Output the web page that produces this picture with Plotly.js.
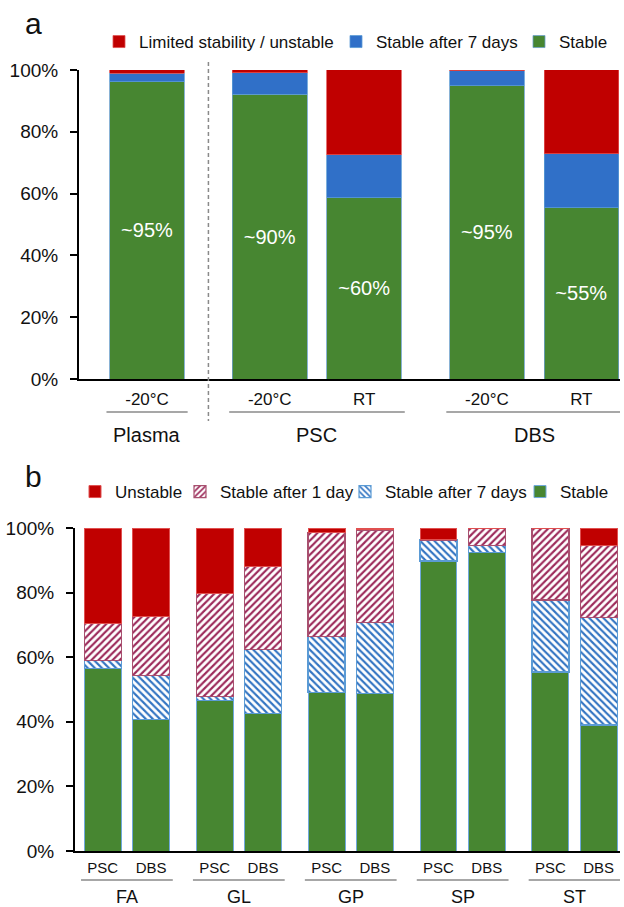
<!DOCTYPE html>
<html>
<head>
<meta charset="utf-8">
<script src="https://cdn.plot.ly/plotly-3.0.1.min.js"></script>
<style>html,body{margin:0;padding:0;background:#fff;}#chart{width:624px;height:907px;}</style>
</head>
<body>
<div id="chart"></div>
<script>
// ---------- Panel a data ----------
const groupsA = ['Plasma', 'PSC', 'PSC', 'DBS', 'DBS'];
const condA = ['-20°C', '-20°C', 'RT', '-20°C', 'RT'];
const stableA = [96.2, 92.2, 58.7, 94.9, 55.5];
const after7A = [2.7, 6.9, 13.9, 4.9, 17.4];
const limitedA = [1.9, 1.4, 27.9, 1.0, 27.9];
const labelA = ['~95%', '~90%', '~60%', '~95%', '~55%'];
const legendA = ['Limited stability / unstable', 'Stable after 7 days', 'Stable'];

// ---------- Panel b data ----------
const analytesB = ['FA', 'GL', 'GP', 'SP', 'ST'];
const matricesB = ['PSC', 'DBS'];
const stableB   = [56.6, 40.8, 46.5, 42.6, 49.0, 48.8, 89.8, 92.4, 55.4, 39.0];
const after7B   = [2.3, 13.5, 1.3, 19.9, 17.3, 21.9, 6.5, 2.3, 22.3, 33.2];
const after1B   = [11.6, 18.2, 32.0, 25.5, 32.4, 28.7, 0, 5.3, 22.3, 22.5];
const unstableB = [29.5, 27.5, 20.2, 12.0, 1.3, 0.6, 3.7, 0, 0, 5.3];
const legendB = ['Unstable', 'Stable after 1 day', 'Stable after 7 days', 'Stable'];
const yTicks = [0, 20, 40, 60, 80, 100];
const yTickText = ['0%', '20%', '40%', '60%', '80%', '100%'];

// ---------- helpers ----------
const W = 624, H = 907;
const px = v => v / W;
const py = v => 1 - v / H;
const FONT = 'Liberation Sans, Arial, sans-serif';
const RED = '#c00000', BLUE = '#3070c8', GREEN = '#478631';

// bar positions from group structure (gap between groups)
const GAP_A = 0.3;
const posA = [];
{ let g = 0; groupsA.forEach((grp, i) => { if (i > 0 && grp !== groupsA[i - 1]) g++; posA.push(i + g * GAP_A); }); }
const GAP_B = 0.317;
const posB = [], subB = [], grpB = [];
analytesB.forEach((a, gi) => matricesB.forEach((m, mi) => {
  posB.push(gi * (matricesB.length + GAP_B) + mi); subB.push(m); grpB.push(a);
}));

const common = { type: 'bar', hoverinfo: 'skip', cliponaxis: false, showlegend: true };

const traces = [
  Object.assign({}, common, { x: posA, y: stableA, name: legendA[2], width: 0.79, xaxis: 'x', yaxis: 'y',
    marker: { color: GREEN, line: { color: '#6b9fc9', width: 0.8 } },
    text: labelA, textposition: 'inside', insidetextanchor: 'middle', textangle: 0, constraintext: 'none',
    textfont: { color: '#ffffff', size: 20, family: FONT }, legend: 'legend3' }),
  Object.assign({}, common, { x: posA, y: after7A, name: legendA[1], width: 0.79, xaxis: 'x', yaxis: 'y',
    marker: { color: BLUE, line: { color: '#5b9bd5', width: 0.8 } }, legend: 'legend2' }),
  Object.assign({}, common, { x: posA, y: limitedA, name: legendA[0], width: 0.79, xaxis: 'x', yaxis: 'y',
    marker: { color: RED, line: { color: '#e05050', width: 0.8 } }, legend: 'legend' }),

  Object.assign({}, common, { x: posB, y: stableB, name: legendB[3], width: 0.766, xaxis: 'x2', yaxis: 'y2',
    marker: { color: GREEN, line: { color: '#6fa8dc', width: 1 } }, legend: 'legend7' }),
  Object.assign({}, common, { x: posB, y: after7B, name: legendB[2], width: 0.766, xaxis: 'x2', yaxis: 'y2',
    marker: { color: '#ffffff', line: { color: '#5b9bd5', width: 1.2 },
      pattern: { shape: '\\', fgcolor: '#3274c2', bgcolor: '#ffffff', size: 5, solidity: 0.42 } }, legend: 'legend6' }),
  Object.assign({}, common, { x: posB, y: after1B, name: legendB[1], width: 0.766, xaxis: 'x2', yaxis: 'y2',
    marker: { color: '#ffffff', line: { color: '#a8506f', width: 1.2 },
      pattern: { shape: '/', fgcolor: '#9c2a5a', bgcolor: '#ffffff', size: 5, solidity: 0.42 } }, legend: 'legend5' }),
  Object.assign({}, common, { x: posB, y: unstableB, name: legendB[0], width: 0.766, xaxis: 'x2', yaxis: 'y2',
    marker: { color: RED, line: { color: '#e05050', width: 1 } }, legend: 'legend4' })
];

function leg(xText, yCenter) {
  return { x: px(xText - 40), y: py(yCenter), xanchor: 'left', yanchor: 'middle', orientation: 'h',
    bgcolor: 'rgba(0,0,0,0)', borderwidth: 0, font: { size: 17, family: FONT, color: '#111' },
    itemclick: false, itemdoubleclick: false, visible: true };
}

const yAxisBase = {
  range: [0, 100], tickvals: yTicks, ticktext: yTickText, showline: true, linewidth: 2, linecolor: '#000',
  ticks: 'outside', ticklen: 7, tickwidth: 2, tickcolor: '#000', showgrid: false, zeroline: false,
  tickfont: { size: 19, family: FONT, color: '#111' }, ticklabelstandoff: 8, fixedrange: true
};
const yOverlay = {
  range: [0, 100], tickvals: yTicks, showline: false, showgrid: false, zeroline: false,
  ticks: 'inside', ticklen: 6, tickwidth: 2, tickcolor: '#000', showticklabels: false, fixedrange: true
};

const layout = {
  width: W, height: H, margin: { l: 0, r: 0, t: 0, b: 0 }, showlegend: true,
  paper_bgcolor: '#fff', plot_bgcolor: 'rgba(0,0,0,0)', barmode: 'stack', bargap: 0,
  font: { family: FONT, color: '#111' },
  xaxis: { domain: [px(79), px(620)], range: [-0.721, 5.01], anchor: 'y', showline: true, linewidth: 2, linecolor: '#000',
    ticks: '', tickvals: posA, ticktext: condA, tickfont: { size: 17, family: FONT, color: '#111' },
    ticklabelstandoff: 4, showgrid: false, zeroline: false, fixedrange: true },
  yaxis: Object.assign({}, yAxisBase, { domain: [py(379), py(70)], anchor: 'x' }),
  yaxis3: Object.assign({}, yOverlay, { overlaying: 'y', anchor: 'x' }),
  xaxis2: { domain: [px(75), px(620)], range: [-0.575, 10.709], anchor: 'y2', showline: true, linewidth: 2, linecolor: '#000',
    ticks: '', tickvals: posB, ticktext: subB, tickfont: { size: 15, family: FONT, color: '#111' },
    ticklabelstandoff: 2, showgrid: false, zeroline: false, fixedrange: true },
  yaxis2: Object.assign({}, yAxisBase, { domain: [py(851), py(528)], anchor: 'x2' }),
  yaxis4: Object.assign({}, yOverlay, { overlaying: 'y2', anchor: 'x2' }),
  legend: leg(139, 42), legend2: leg(376, 42), legend3: leg(559, 42),
  legend4: leg(115, 492), legend5: leg(220, 492), legend6: leg(385, 492), legend7: leg(560, 492),
  shapes: [], annotations: []
};

// panel letters
layout.annotations.push({ text: 'a', xref: 'paper', yref: 'paper', x: px(23), y: py(23), xanchor: 'left', yanchor: 'middle',
  showarrow: false, font: { size: 30, family: FONT, color: '#111' } });
layout.annotations.push({ text: 'b', xref: 'paper', yref: 'paper', x: px(23), y: py(476), xanchor: 'left', yanchor: 'middle',
  showarrow: false, font: { size: 30, family: FONT, color: '#111' } });

// dashed separator between Plasma and PSC
{
  const iFirstPSC = groupsA.indexOf('PSC');
  const xm = (posA[0] + posA[iFirstPSC]) / 2;
  layout.shapes.push({ type: 'line', xref: 'x', yref: 'paper', x0: xm, x1: xm,
    y0: py(62), y1: py(421), line: { color: '#8a8a8a', width: 1.5, dash: '4px,3px' } });
}

// group underlines + labels, panel a
[...new Set(groupsA)].forEach(g => {
  const ps = posA.filter((p, i) => groupsA[i] === g);
  const x0 = Math.min(...ps) - 0.43, x1 = Math.max(...ps) + 0.43;
  layout.shapes.push({ type: 'line', xref: 'x', yref: 'paper', x0, x1, y0: py(412), y1: py(412),
    line: { color: '#8a8a8a', width: 1.5 } });
  layout.annotations.push({ text: g, xref: 'x', yref: 'paper', x: (x0 + x1) / 2, y: py(435), xanchor: 'center', yanchor: 'middle',
    showarrow: false, font: { size: 20, family: FONT, color: '#111' } });
});

// group underlines + labels, panel b
analytesB.forEach(a => {
  const ps = posB.filter((p, i) => grpB[i] === a);
  const x0 = Math.min(...ps) - 0.45, x1 = Math.max(...ps) + 0.45;
  layout.shapes.push({ type: 'line', xref: 'x2', yref: 'paper', x0, x1, y0: py(880), y1: py(880),
    line: { color: '#8a8a8a', width: 1.5 } });
  layout.annotations.push({ text: a, xref: 'x2', yref: 'paper', x: (x0 + x1) / 2, y: py(897), xanchor: 'center', yanchor: 'middle',
    showarrow: false, font: { size: 18, family: FONT, color: '#111' } });
});

Plotly.newPlot('chart', traces, layout, { displayModeBar: false, staticPlot: true });
</script>
</body>
</html>
